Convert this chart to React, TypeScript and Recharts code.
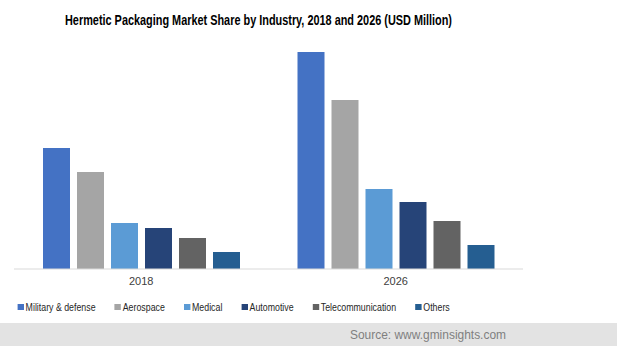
import { Bar, BarChart, XAxis, YAxis, Legend } from "recharts";

// USD Million
const years = ["2018", "2026"];
const militaryDefense = [605, 1085];
const aerospace = [485, 845];
const medical = [230, 400];
const automotive = [205, 335];
const telecommunication = [155, 240];
const others = [85, 120];

const series = [
  { key: "military", name: "Military & defense", color: "#4472C4", values: militaryDefense },
  { key: "aerospace", name: "Aerospace", color: "#A5A5A5", values: aerospace },
  { key: "medical", name: "Medical", color: "#5B9BD5", values: medical },
  { key: "automotive", name: "Automotive", color: "#264478", values: automotive },
  { key: "telecom", name: "Telecommunication", color: "#636363", values: telecommunication },
  { key: "others", name: "Others", color: "#255E91", values: others },
];

const data = years.map((year, i) => {
  const row: Record<string, string | number> = { year };
  series.forEach((s) => (row[s.key] = s.values[i]));
  return row;
});

const sans = "'Liberation Sans', Arial, sans-serif";

// the original uses a narrow face; squeeze Liberation Sans horizontally instead
function LegendRow() {
  return (
    <div
      style={{
        display: "flex",
        gap: 24,
        fontFamily: sans,
        fontSize: 11,
        color: "#262626",
        paddingLeft: 22,
        transform: "scaleX(0.8)",
        transformOrigin: "0 0",
        whiteSpace: "nowrap",
      }}
    >
      {series.map((s) => (
        <div key={s.key} style={{ display: "flex", alignItems: "center", gap: 2 }}>
          <span style={{ width: 8, height: 6, background: s.color, display: "inline-block" }} />
          <span>{s.name}</span>
        </div>
      ))}
    </div>
  );
}

export default function App() {
  return (
    <div style={{ position: "absolute", left: 0, top: 0, width: 617, height: 346, background: "#fff", overflow: "hidden" }}>
      <svg width={617} height={40} style={{ position: "absolute", left: 0, top: 0 }}>
        <text
          x={65}
          y={25}
          textLength={387}
          lengthAdjust="spacingAndGlyphs"
          fontFamily={sans}
          fontWeight="bold"
          fontSize={15}
          fill="#000"
        >
          Hermetic Packaging Market Share by Industry, 2018 and 2026 (USD Million)
        </text>
      </svg>
      <div style={{ position: "absolute", left: 0, top: 0 }}>
        <BarChart
          width={617}
          height={300}
          data={data}
          margin={{ top: 19, right: 94, bottom: 1, left: 14 }}
          barSize={27}
          barGap={7}
        >
          <XAxis
            dataKey="year"
            height={30}
            axisLine={{ stroke: "#D9D9D9" }}
            tickLine={false}
            tickSize={0}
            tickMargin={8}
            tick={{ fill: "#404040", fontSize: 11, fontFamily: sans }}
          />
          <YAxis hide domain={[0, 1250]} />
          {series.map((s) => (
            <Bar key={s.key} dataKey={s.key} name={s.name} fill={s.color} isAnimationActive={false} />
          ))}
          <Legend content={() => null} />
        </BarChart>
      </div>
      <div style={{ position: "absolute", left: 0, top: 301 }}>
        <LegendRow />
      </div>
      <div style={{ position: "absolute", left: 0, top: 323, width: 617, height: 23, background: "#E3E3E3" }}>
        <svg width={617} height={23}>
          <text
            x={350}
            y={16}
            textLength={156}
            lengthAdjust="spacingAndGlyphs"
            fontFamily={sans}
            fontSize={13}
            fill="#7F7F7F"
          >
            Source: www.gminsights.com
          </text>
        </svg>
      </div>
    </div>
  );
}
